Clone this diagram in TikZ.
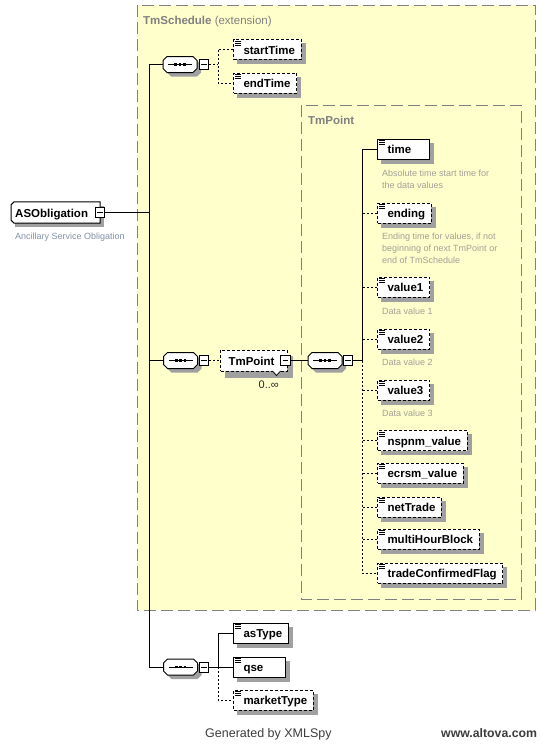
\documentclass[tikz,border=0pt]{standalone}
\usepackage{fontspec}
\setmainfont{Liberation Sans}
\usetikzlibrary{calc}
\pgfdeclarelayer{bgl}
\pgfdeclarelayer{shl}
\pgfsetlayers{bgl,shl,main}
\definecolor{yel}{RGB}{255,255,204}
\definecolor{bordergray}{RGB}{128,128,128}
\definecolor{boxshade}{RGB}{160,160,160}
\definecolor{descc}{RGB}{160,160,150}
\definecolor{descblue}{RGB}{130,145,170}
\definecolor{footc}{RGB}{60,60,60}
\newcommand\elpad[1]{\kern10pt\setbox0\hbox{#1}\ifdim\wd0<36pt\hbox to 36pt{\box0\hss}\else\box0\fi\kern6pt}
\newcommand\seqdraw[1]{%
  \begin{scope}[shift={(#1.center)}]
    \path[fill=boxshade] (-9,-4) -- (17,-4) -- (21,0) -- (21,8) -- (17,12) -- (-9,12) -- (-13,8) -- (-13,0) -- cycle;
    \draw[fill=white,line width=1pt] (-13,-8) -- (13,-8) -- (17,-4) -- (17,4) -- (13,8) -- (-13,8) -- (-17,4) -- (-17,-4) -- cycle;
    \draw[line width=1pt] (-12,0) -- (12,0);
    \fill (-5.8,-1.4) rectangle (-3,1.4);
    \fill (-1.4,-1.4) rectangle (1.4,1.4);
    \fill (3,-1.4) rectangle (5.8,1.4);
  \end{scope}}
\tikzset{
  elbase/.style={rectangle, draw=black, fill=white, line width=1pt, inner sep=0pt,
    minimum height=20pt, text height=9.5pt, text depth=0pt, anchor=west,
    font=\fontsize{11.5}{13}\selectfont\bfseries},
  icon/.style={path picture={\draw[solid, line width=0.8pt]
     ([shift={(1.6,1.7)}]path picture bounding box.north west) -- ++(5.5,0)
     ([shift={(1.6,3.7)}]path picture bounding box.north west) -- ++(5.5,0)
     ([shift={(1.6,5.7)}]path picture bounding box.north west) -- ++(5.5,0);}},
  req/.style={elbase, icon},
  opt/.style={elbase, icon, dash pattern=on 3pt off 2pt},
  minusb/.style={rectangle, draw=black, fill=white, line width=1pt, minimum width=9.5pt,
    minimum height=10pt, inner sep=0pt,
    path picture={\draw[solid,line width=1pt] ([shift={(2,0)}]path picture bounding box.west) -- ([shift={(-2,0)}]path picture bounding box.east);}},
  seqb/.style={rectangle, minimum width=34pt, minimum height=16pt, inner sep=0pt},
  groupbox/.style={draw=bordergray, fill=yel, line width=1pt, dash pattern=on 12pt off 5pt},
  grouplabel/.style={font=\fontsize{11.5}{13}\selectfont, text=bordergray, inner sep=0pt, anchor=base west},
  descr/.style={font=\fontsize{9}{11}\selectfont, text=descc, inner sep=0pt, anchor=base west},
  conn/.style={line width=1pt},
  conndash/.style={line width=1pt, dash pattern=on 2pt off 2pt},
  foot/.style={font=\fontsize{12.5}{14}\selectfont, text=footc, inner sep=0pt, anchor=base west}
}
\begin{document}
\begin{tikzpicture}[x=1pt,y=-1pt]
\useasboundingbox (0,0) rectangle (547,744);
% group boxes
\begin{pgfonlayer}{bgl}
\draw[groupbox] (137,5) rectangle (535,610);
\draw[groupbox] (301,105) rectangle (521,599);
\end{pgfonlayer}
\node[grouplabel] (lblsched) at (143,24) {\textbf{TmSchedule} (extension)};
\node[grouplabel] (lblpoint) at (308,124) {\textbf{TmPoint}};
% trunk reference coordinates
\coordinate (tr0) at (149,0);
\coordinate (tr1) at (218,0);
\coordinate (tr2) at (362,0);
\coordinate (tr3) at (218,0);
% root element
\node[rectangle, fill=white, inner sep=0pt, minimum height=21pt, text height=9.5pt, text depth=0pt,
  anchor=west, font=\fontsize{11.5}{13}\selectfont\bfseries] (aso) at (11,212.5) {\kern4pt ASObligation\kern12pt};
\draw[line width=1pt] ([shift={(3,0)}]aso.north west) -- (aso.north east) -- (aso.south east)
  -- ([shift={(3,0)}]aso.south west) -- ([shift={(0,-3)}]aso.south west) -- ([shift={(0,3)}]aso.north west) -- cycle;
\node[minusb] (asom) at (aso.east) {};
\node[descr, text=descblue] (asod) at (15,239) {Ancillary Service Obligation};
% top sequence
\node[seqb] (seq1) at (180,64.5) {};
\seqdraw{seq1}
\node[minusb] (m1) at (203.8,64.5) {};
\node[opt] (startTime) at (233,49.3) {\elpad{startTime}};
\node[opt] (endTime) at (233,83) {\elpad{endTime}};
% middle sequence
\node[seqb] (seq2) at (180.5,360.5) {};
\seqdraw{seq2}
\node[minusb] (m2) at (204,360.5) {};
\node[rectangle, draw=black, fill=white, line width=1pt, inner sep=0pt, minimum height=21pt,
  text height=9.5pt, text depth=0pt, anchor=west, font=\fontsize{11.5}{13}\selectfont\bfseries,
  dash pattern=on 3pt off 2pt]
  (tmp) at (220,360.5) {\kern8pt TmPoint\kern13pt};
\draw[line width=0.8pt, fill=white] (272.5,371) -- (276.5,375.5) -- (280.5,371);
\node[minusb] (tmpm) at ([shift={(-2.5,0)}]tmp.east) {};
\node[inner sep=0pt, anchor=base west, font=\fontsize{11}{13}\selectfont, text=black!85] (occ) at (258.5,388.5) {0..∞};
\node[seqb] (seq4) at (325,360.5) {};
\seqdraw{seq4}
\node[minusb] (m4) at (348,360.5) {};
% TmPoint children
\node[req] (time) at (377,149) {\elpad{time}};
\node[descr] (dtime1) at (382,176) {Absolute time start time for};
\node[descr] (dtime2) at (382,188) {the data values};
\node[opt] (ending) at (377,213) {\elpad{ending}};
\node[descr] (dend1) at (382,239.5) {Ending time for values, if not};
\node[descr] (dend2) at (382,251.5) {beginning of next TmPoint or};
\node[descr] (dend3) at (382,263.5) {end of TmSchedule};
\node[opt] (value1) at (377,287) {\elpad{value1}};
\node[descr] (dv1) at (382,314) {Data value 1};
\node[opt] (value2) at (377,339) {\elpad{value2}};
\node[descr] (dv2) at (382,365) {Data value 2};
\node[opt] (value3) at (377,390) {\elpad{value3}};
\node[descr] (dv3) at (382,416) {Data value 3};
\node[opt] (nspnm) at (377,440.5) {\elpad{nspnm\_value}};
\node[opt] (ecrsm) at (377,473) {\elpad{ecrsm\_value}};
\node[opt] (netTrade) at (377,507) {\elpad{netTrade}};
\node[opt] (multi) at (377,539) {\elpad{multiHourBlock}};
\node[opt] (tcf) at (377,573) {\elpad{tradeConfirmedFlag}};
% bottom sequence
\node[seqb] (seq3) at (180.5,667) {};
\seqdraw{seq3}
\node[minusb] (m3) at (204,667) {};
\node[req] (asType) at (233,633) {\elpad{asType}};
\node[req] (qse) at (233,667) {\elpad{qse}};
\node[opt] (marketType) at (233,700) {\elpad{marketType}};
% shadows
\begin{pgfonlayer}{shl}
\foreach \n in {aso,startTime,endTime,time,ending,value1,value2,value3,nspnm,ecrsm,netTrade,multi,tcf,asType,qse,marketType}
  \path[fill=boxshade] ([shift={(4,4)}]\n.north west) rectangle ([shift={(4,4)}]\n.south east);
\path[fill=boxshade] ([shift={(5,6)}]tmp.north west) rectangle ([shift={(5,6)}]tmp.south east);
\end{pgfonlayer}
% connectors: main trunk
\draw[conn] (seq1.west) -- (seq1.west -| tr0) -- (seq3.west -| tr0) -- (seq3.west);
\draw[conn] (seq2.west) -- (seq2.west -| tr0);
\draw[conn] (asom.east) -- (asom.east -| tr0);
% top group
\draw[conndash] (m1.east) -- (m1.east -| tr1);
\draw[conndash] (startTime.west) -- (startTime.west -| tr1) -- (endTime.west -| tr1) -- (endTime.west);
% middle
\draw[conndash] (m2.east) -- (tmp.west);
\draw[conn] (tmpm.east) -- (seq4.west);
\draw[conn] (m4.east) -- (m4.east -| tr2);
\draw[conn] (time.west) -- (time.west -| tr2) -- (m4.east -| tr2);
\draw[conndash] (m4.east -| tr2) -- (tcf.west -| tr2) -- (tcf.west);
\foreach \n in {ending,value1,value2,value3,nspnm,ecrsm,netTrade,multi}
  \draw[conndash] (\n.west) -- (\n.west -| tr2);
% bottom
\draw[conn] (m3.east) -- (m3.east -| tr3);
\draw[conn] (asType.west) -- (asType.west -| tr3) -- (m3.east -| tr3);
\draw[conn] (qse.west) -- (qse.west -| tr3);
\draw[conndash] (m3.east -| tr3) -- (marketType.west -| tr3) -- (marketType.west);
% footer
\node[foot] (gen) at (205,737) {Generated by XMLSpy};
\node[foot, font=\fontsize{12.3}{14}\selectfont\bfseries] (www) at (441,737) {www.altova.com};
\end{tikzpicture}
\end{document}
